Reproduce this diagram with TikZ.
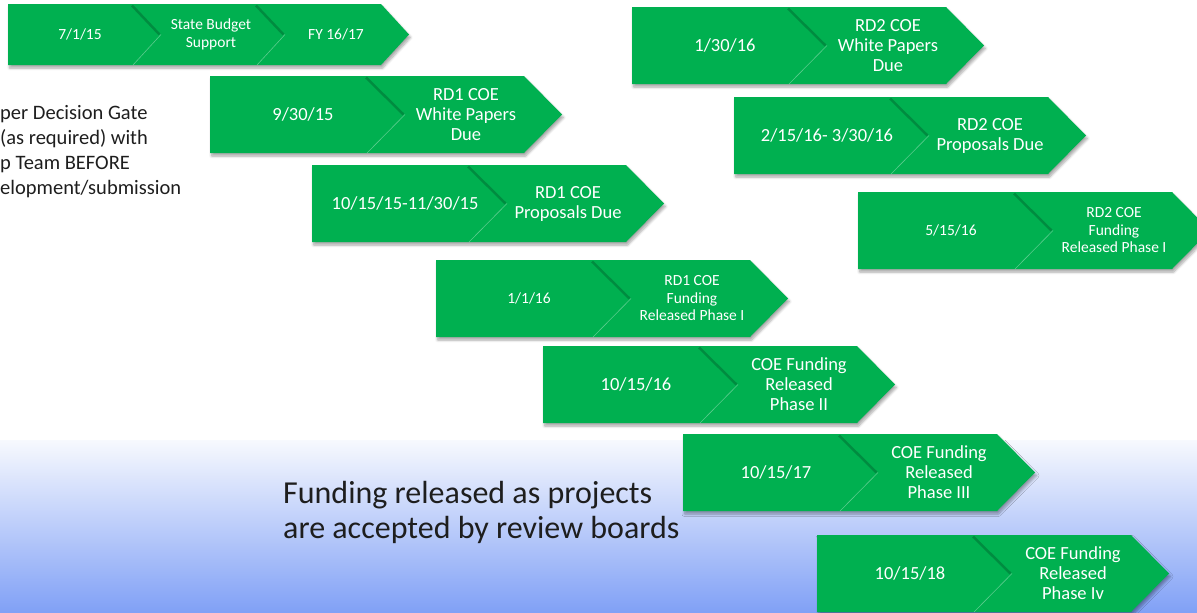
\documentclass[tikz,border=0pt]{standalone}
\usepackage{fontspec}
\setmainfont{Carlito}
\usetikzlibrary{shadows.blur}

\definecolor{chevgreen}{RGB}{0,176,80}
\definecolor{bandtop}{RGB}{247,249,254}
\definecolor{bandbot}{RGB}{128,160,246}
\definecolor{notetext}{RGB}{30,30,30}

\tikzset{
  boxshadow/.style={blur shadow={shadow xshift=1.5pt,shadow yshift=-3pt,shadow blur steps=6,shadow blur radius=2.5pt,shadow opacity=35}},
  notchdark/.style={black,opacity=0.2,line width=2.5pt},
  notchlight/.style={white,opacity=0.35,line width=0.6pt},
  bigtext/.style={text=white,align=center,inner sep=0pt,font=\fontsize{18.5}{20}\selectfont},
  smalltext/.style={text=white,align=center,inner sep=0pt,font=\fontsize{15.5}{17.5}\selectfont},
  notetext/.style={text=notetext,align=left,inner sep=0pt}
}

% one milestone: name, x, top y, text style, date, label
\newcommand{\milestone}[6]{
  \fill[chevgreen,boxshadow] (#2,#3) -- ++(314,0) -- ++(38,38.5) -- ++(-38,38.5) -- ++(-314,0) -- cycle;
  \draw[notchdark] (#2+156,#3+1.5) -- (#2+193.5,#3+38.5);
  \draw[notchlight] (#2+195,#3+38.5) -- (#2+157,#3+77);
  \node[#4] (#1date) at (#2+93,#3+38.5) {#5};
  \node[#4] (#1lab) at (#2+256,#3+38.5) {#6};
}

\begin{document}
\begin{tikzpicture}[x=1pt,y=-1pt]
\useasboundingbox (0,0) rectangle (1197,613);

% blue band at the bottom
\shade[top color=bandtop,bottom color=bandbot] (0,440) rectangle (1197,613);

% state budget row
\fill[chevgreen,boxshadow] (8,4) -- (381,4) -- (409,34.5) -- (381,65) -- (8,65) -- cycle;
\draw[notchdark] (132,5.5) -- (159.5,34.5);
\draw[notchlight] (161,34.5) -- (133,65);
\draw[notchdark] (256,5.5) -- (283.5,34.5);
\draw[notchlight] (285,34.5) -- (257,65);
\node[smalltext] (start) at (80,34.5) {7/1/15};
\node[smalltext] (budget) at (211,34.5) {State Budget\\Support};
\node[smalltext] (fy) at (336,34.5) {FY 16/17};

% round 1
\milestone{wpone}{210}{76}{bigtext}{9/30/15}{RD1 COE\\White Papers\\Due}
\milestone{prone}{312}{165}{bigtext}{10/15/15-11/30/15}{RD1 COE\\Proposals Due}
\milestone{fdone}{436}{260}{smalltext}{1/1/16}{RD1 COE\\Funding\\Released Phase I}
\milestone{phtwo}{543}{346}{bigtext}{10/15/16}{COE Funding\\Released\\Phase II}
\milestone{phthree}{683}{434}{bigtext}{10/15/17}{COE Funding\\Released\\Phase III}
\milestone{phfour}{817}{535}{bigtext}{10/15/18}{COE Funding\\Released\\Phase Iv}

% round 2
\milestone{wptwo}{632}{7}{bigtext}{1/30/16}{RD2 COE\\White Papers\\Due}
\milestone{prtwo}{734}{97}{bigtext}{2/15/16- 3/30/16}{RD2 COE\\Proposals Due}
\milestone{fdtwo}{858}{192}{smalltext}{5/15/16}{RD2 COE\\Funding\\Released Phase I}

% notes (base = last line)
\node[notetext,anchor=base west,font=\fontsize{20.5}{25}\selectfont] (gate) at (0,194)
  {per Decision Gate\\(as required) with\\p Team BEFORE\\elopment/submission};
\node[notetext,anchor=base west,font=\fontsize{32}{35}\selectfont] (release) at (283,538)
  {Funding released as projects\\are accepted by review boards};
\end{tikzpicture}
\end{document}
